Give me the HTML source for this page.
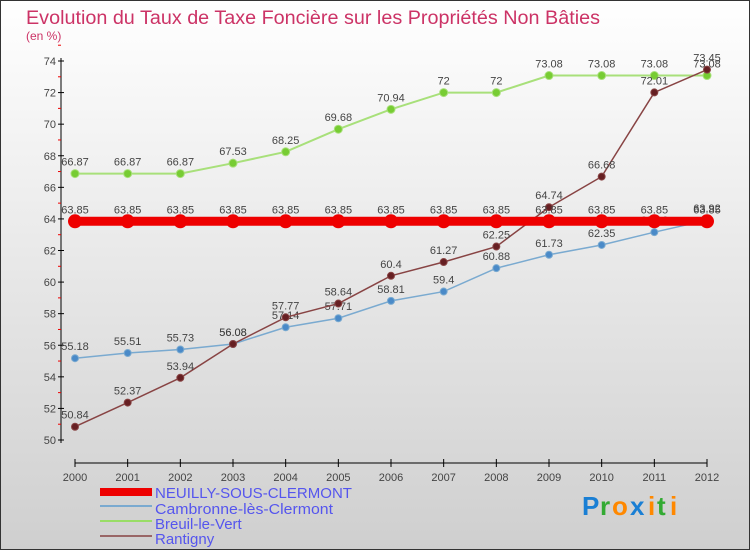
<!DOCTYPE html>
<html><head><meta charset="utf-8"><style>
html,body{margin:0;padding:0}
body{width:750px;height:550px;overflow:hidden;font-family:"Liberation Sans",sans-serif}
svg text{font-family:"Liberation Sans",sans-serif}
</style></head><body>
<svg id="chart" width="750" height="550" xmlns="http://www.w3.org/2000/svg">
<defs><linearGradient id="bg" x1="0" y1="0" x2="0" y2="1"><stop offset="0" stop-color="#ffffff"/><stop offset="1" stop-color="#cfcfcf"/></linearGradient></defs>
<rect x="0.5" y="0.5" width="749" height="549" fill="url(#bg)" stroke="#333"/>
<text x="26" y="24" font-size="19" fill="#cc3366" textLength="574" lengthAdjust="spacingAndGlyphs">Evolution du Taux de Taxe Foncière sur les Propriétés Non Bâties</text>
<text x="26" y="40" font-size="12" fill="#cc3366">(en %)</text>
<g id="axes"></g><g id="series"></g>
<g>
<rect x="100" y="488" width="52" height="8" fill="#e00"/>
<text x="155" y="498" font-size="15" fill="#5555ee" textLength="197" lengthAdjust="spacingAndGlyphs">NEUILLY-SOUS-CLERMONT</text>
<rect x="100" y="505" width="52" height="2" fill="#7aaad0"/>
<text x="155" y="514" font-size="15" fill="#5555ee" textLength="178" lengthAdjust="spacingAndGlyphs">Cambronne-lès-Clermont</text>
<rect x="100" y="520" width="52" height="2" fill="#99dd66"/>
<text x="155" y="529" font-size="15" fill="#5555ee">Breuil-le-Vert</text>
<rect x="100" y="535" width="52" height="2" fill="#996666"/>
<text x="155" y="544" font-size="15" fill="#5555ee">Rantigny</text>
</g>
<g font-size="26" font-weight="bold">
<text x="582" y="515" fill="#1a7fd4">P</text><text x="600" y="515" fill="#33aa33">r</text><text x="612" y="515" fill="#ff8800">o</text><text x="630" y="515" fill="#1a7fd4">x</text><text x="648" y="515" fill="#ff8800">i</text><text x="657" y="515" fill="#33aa33">t</text><text x="670" y="515" fill="#ff8800">i</text>
</g>
</svg>
<script>
const years=[2000,2001,2002,2003,2004,2005,2006,2007,2008,2009,2010,2011,2012];
const yTicks=[50,52,54,56,58,60,62,64,66,68,70,72,74];
const neuilly=[63.85,63.85,63.85,63.85,63.85,63.85,63.85,63.85,63.85,63.85,63.85,63.85,63.85];
const cambronne=[55.18,55.51,55.73,56.08,57.14,57.71,58.81,59.4,60.88,61.73,62.35,63.16,63.92];
const breuil=[66.87,66.87,66.87,67.53,68.25,69.68,70.94,72,72,73.08,73.08,73.08,73.08];
const rantigny=[50.84,52.37,53.94,56.08,57.77,58.64,60.4,61.27,62.25,64.74,66.68,72.01,73.45];
const NS="http://www.w3.org/2000/svg";
const xS=i=>75+i*(707-75)/12;
const yS=v=>440-(v-50)*(440-61)/24;
function mk(t,a,p){const e=document.createElementNS(NS,t);for(const k in a)e.setAttribute(k,a[k]);p.appendChild(e);return e;}
const ax=document.getElementById('axes');
const ya=mk('line',{x1:61,y1:58,x2:61,y2:443,stroke:'#000'},ax);


const xa=mk('line',{x1:75,y1:463,x2:707,y2:463,stroke:'#000'},ax);


yTicks.forEach(v=>{
 mk('line',{x1:58,y1:yS(v),x2:64,y2:yS(v),stroke:'#000'},ax);
 mk('line',{x1:58,y1:yS(v+1),x2:61,y2:yS(v+1),stroke:'#e00'},ax);
 const t=mk('text',{x:56,y:yS(v)+4,'text-anchor':'end','font-size':11,fill:'#444'},ax);t.textContent=v;
 
 
});
years.forEach((y,i)=>{
 mk('line',{x1:xS(i),y1:459,x2:xS(i),y2:467,stroke:'#000'},ax);
 const t=mk('text',{x:xS(i),y:481,'text-anchor':'middle','font-size':11,fill:'#444'},ax);t.textContent=y;
 
 
});
const sg=document.getElementById('series');
function series(name,vals,color,w,r,dot){
 const g=mk('g',{},sg);
 
 
 mk('polyline',{points:vals.map((v,i)=>xS(i)+','+yS(v)).join(' '),fill:'none',stroke:color,'stroke-width':w},g);
 vals.forEach((v,i)=>{
  const c=mk('circle',{cx:xS(i),cy:yS(v),r:r,fill:dot,stroke:color,'stroke-width':1},g);
  
  
  const t=mk('text',{x:xS(i),y:yS(v)-8,'text-anchor':'middle','font-size':11,fill:'#444'},g);t.textContent=String(v);
  
  
 });
}
series('breuil',breuil,'#a8e07a',2,4,'#77cc33');
series('cambronne',cambronne,'#7aaad0',1.5,3.5,'#4a8ac8');
series('rantigny',rantigny,'#884444',1.5,3.5,'#661f22');
series('neuilly',neuilly,'#e00',9,6.5,'#e00');
</script>
</body></html>
